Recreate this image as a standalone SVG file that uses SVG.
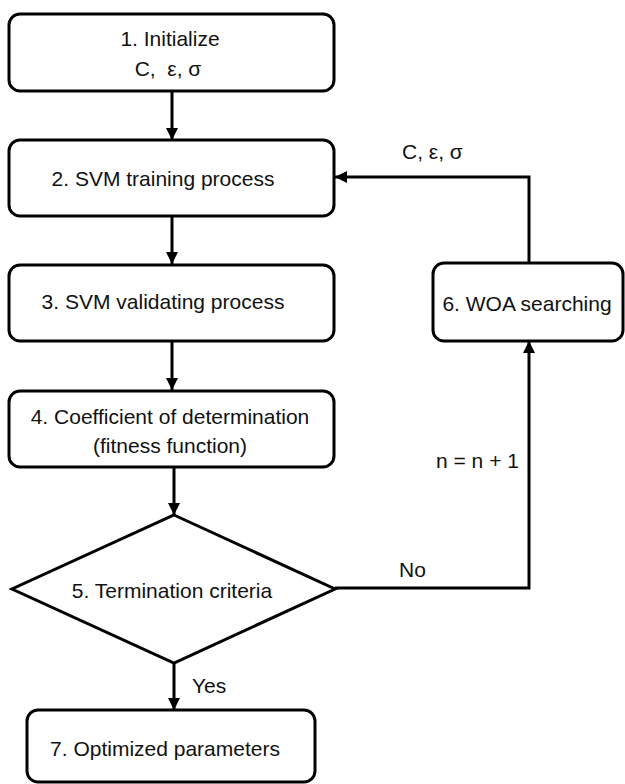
<svg xmlns="http://www.w3.org/2000/svg" width="625" height="784" viewBox="0 0 625 784">
<defs>
<marker id="ah" viewBox="0 0 10 10" refX="10" refY="5" markerWidth="4" markerHeight="4" orient="auto" markerUnits="strokeWidth"><path d="M0,0 L10,5 L0,10 z" fill="#000"/></marker>
<style>
.box{fill:#fff;stroke:#000;stroke-width:3}
.t{font-family:"Liberation Sans",Arial,sans-serif;font-size:21px;fill:#111;text-anchor:middle}
.l{font-family:"Liberation Sans",Arial,sans-serif;font-size:21px;fill:#111}
.c{fill:none;stroke:#000;stroke-width:3}
</style>
</defs>
<rect width="625" height="784" fill="#fff"/>
<g id="connectors">
<line class="c" x1="172" y1="91" x2="172" y2="140" marker-end="url(#ah)"/>
<line class="c" x1="172" y1="216" x2="172" y2="264" marker-end="url(#ah)"/>
<line class="c" x1="172" y1="341" x2="172" y2="390" marker-end="url(#ah)"/>
<line class="c" x1="174" y1="467" x2="174" y2="515" marker-end="url(#ah)"/>
<line class="c" x1="174" y1="663" x2="174" y2="710" marker-end="url(#ah)"/>
<polyline class="c" points="335,588 529,588 529,341" marker-end="url(#ah)"/>
<polyline class="c" points="529,263 529,177 335,177" marker-end="url(#ah)"/>
<text class="l" x="402" y="159">C, ε, σ</text>
<text class="l" x="436" y="468">n = n + 1</text>
<text class="l" x="399" y="577">No</text>
<text class="l" x="192" y="693">Yes</text>
</g>
<g id="n1">
<rect class="box" x="9" y="14" width="325" height="77" rx="11"/>
<text class="t" x="170" y="46">1. Initialize</text>
<text class="t" x="168" y="76" xml:space="preserve">C,  ε, σ</text>
</g>
<g id="n2">
<rect class="box" x="9" y="140" width="325" height="76" rx="11"/>
<text class="t" x="163" y="186">2. SVM training process</text>
</g>
<g id="n3">
<rect class="box" x="9" y="265" width="325" height="76" rx="11"/>
<text class="t" x="163" y="309">3. SVM validating process</text>
</g>
<g id="n4">
<rect class="box" x="9" y="391" width="325" height="76" rx="11"/>
<text class="t" x="170" y="424">4. Coefficient of determination</text>
<text class="t" x="170" y="453">(fitness function)</text>
</g>
<g id="n5">
<polygon class="box" points="174,515 335,589 174,663 12,589"/>
<text class="t" x="172" y="598">5. Termination criteria</text>
</g>
<g id="n6">
<rect class="box" x="433" y="263" width="190" height="78" rx="11"/>
<text class="t" x="527" y="311">6. WOA searching</text>
</g>
<g id="n7">
<rect class="box" x="27" y="710" width="288" height="72" rx="11"/>
<text class="t" x="165" y="756">7. Optimized parameters</text>
</g>
</svg>
